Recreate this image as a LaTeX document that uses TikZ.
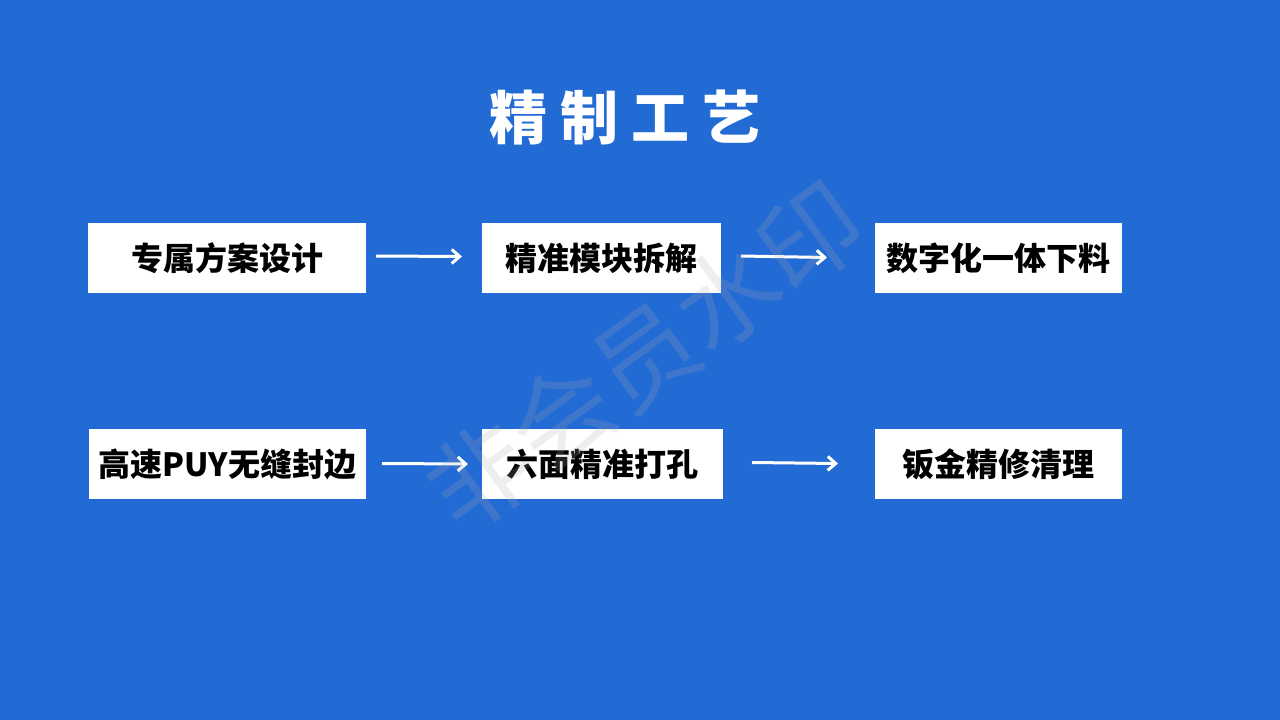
\documentclass[tikz,border=0pt]{standalone}
\usepackage{fontspec}
\setmainfont{Noto Sans CJK SC}
\usetikzlibrary{arrows.meta}
\definecolor{bgblue}{RGB}{34,106,212}
\definecolor{wmgray}{RGB}{170,170,170}
\tikzset{
  stepbox/.style={fill=white, draw=none, minimum height=70pt, inner sep=0pt,
    font=\fontsize{32}{32}\selectfont\bfseries, text=black},
  flowarrow/.style={draw=white, line width=3pt, -{Straight Barb[length=8pt,width=14pt,line width=3pt]}}
}
\begin{document}
\begin{tikzpicture}[x=1pt,y=-1pt]
\fill[bgblue] (0,0) rectangle (1280,720);
\useasboundingbox (0,0) rectangle (1280,720);
% title
\node[text=white, font=\fontsize{58}{58}\selectfont\bfseries] (title) at (625,118) {精 制 工 艺};
% boxes
\node[stepbox, minimum width=278pt] (b1) at (227,258) {专属方案设计};
\node[stepbox, minimum width=239pt] (b2) at (601.5,258) {精准模块拆解};
\node[stepbox, minimum width=247pt] (b3) at (998.5,258) {数字化一体下料};
\node[stepbox, minimum width=277pt] (b4) at (227.5,464) {高速PUY无缝封边};
\node[stepbox, minimum width=241pt] (b5) at (602.5,464) {六面精准打孔};
\node[stepbox, minimum width=247pt] (b6) at (998.5,464) {钣金精修清理};
% arrow anchors
\coordinate (a1s) at (376,256); \coordinate (a1e) at (462,256.5);
\coordinate (a2s) at (741,256); \coordinate (a2e) at (827,257.5);
\coordinate (a3s) at (382,463.5); \coordinate (a3e) at (468,464);
\coordinate (a4s) at (752,462.5); \coordinate (a4e) at (838,463.5);
\draw[flowarrow] (a1s) -- (a1e);
\draw[flowarrow] (a2s) -- (a2e);
\draw[flowarrow] (a3s) -- (a3e);
\draw[flowarrow] (a4s) -- (a4e);
% watermark
\node[text=wmgray, opacity=0.2, rotate=36, font=\fontsize{102}{102}\selectfont] (wm) at (645,356) {非会员水印};
\end{tikzpicture}
\end{document}
